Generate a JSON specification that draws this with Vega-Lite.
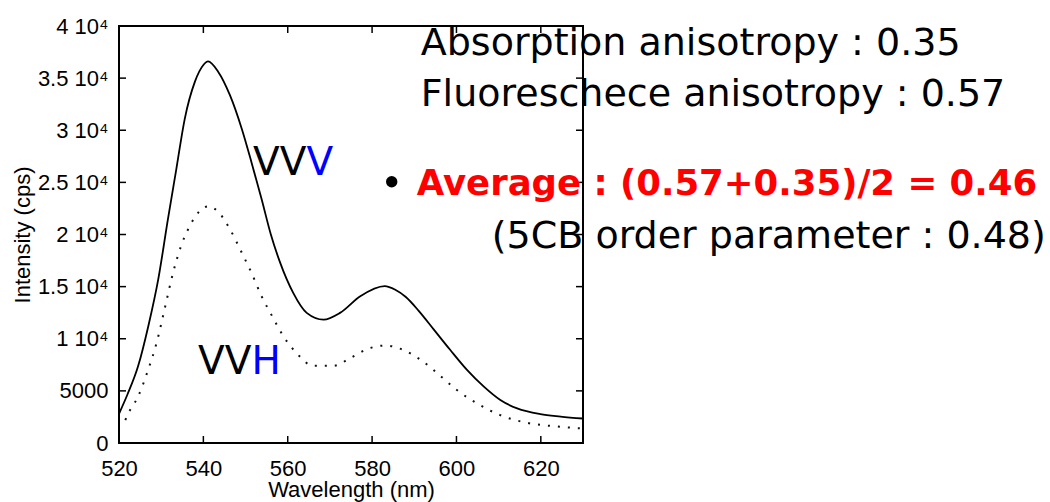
{
  "$schema": "https://vega.github.io/schema/vega-lite/v6.json",
  "autosize": {"type": "none"},
  "padding": {"left": 119, "top": 26, "right": 467, "bottom": 59},
  "width": 464,
  "height": 417,
  "background": "white",
  "config": {
    "view": {"stroke": "black", "strokeWidth": 2},
    "axis": {
      "domain": false,
      "grid": false,
      "ticks": false,
      "labelFlush": false,
      "labelFont": "Liberation Sans",
      "labelFontSize": 22,
      "labelColor": "black",
      "titleFont": "Liberation Sans",
      "titleFontSize": 22,
      "titleFontWeight": "normal",
      "titleColor": "black"
    }
  },
  "datasets": {
    "xticks": [{"wavelength": 540}, {"wavelength": 560}, {"wavelength": 580}, {"wavelength": 600}, {"wavelength": 620}],
    "yticks": [{"intensity": 5000}, {"intensity": 10000}, {"intensity": 15000}, {"intensity": 20000}, {"intensity": 25000}, {"intensity": 30000}, {"intensity": 35000}],
    "curves": [
      {"series": "VVV", "wavelength": 520, "intensity": 2800},
      {"series": "VVV", "wavelength": 522, "intensity": 4650},
      {"series": "VVV", "wavelength": 524.5, "intensity": 7330},
      {"series": "VVV", "wavelength": 527, "intensity": 11300},
      {"series": "VVV", "wavelength": 529.3, "intensity": 15690},
      {"series": "VVV", "wavelength": 531.6, "intensity": 21475},
      {"series": "VVV", "wavelength": 533.6, "intensity": 26300},
      {"series": "VVV", "wavelength": 535.6, "intensity": 31120},
      {"series": "VVV", "wavelength": 538, "intensity": 34660},
      {"series": "VVV", "wavelength": 540, "intensity": 36260},
      {"series": "VVV", "wavelength": 541.1, "intensity": 36600},
      {"series": "VVV", "wavelength": 543.5, "intensity": 35620},
      {"series": "VVV", "wavelength": 546.3, "intensity": 33365},
      {"series": "VVV", "wavelength": 549.1, "intensity": 30150},
      {"series": "VVV", "wavelength": 551.4, "intensity": 26940},
      {"series": "VVV", "wavelength": 553.8, "intensity": 23400},
      {"series": "VVV", "wavelength": 556, "intensity": 20000},
      {"series": "VVV", "wavelength": 558.2, "intensity": 17300},
      {"series": "VVV", "wavelength": 561.3, "intensity": 14400},
      {"series": "VVV", "wavelength": 564.5, "intensity": 12480},
      {"series": "VVV", "wavelength": 568.5, "intensity": 11830},
      {"series": "VVV", "wavelength": 572.4, "intensity": 12480},
      {"series": "VVV", "wavelength": 577.2, "intensity": 14080},
      {"series": "VVV", "wavelength": 583, "intensity": 15050},
      {"series": "VVV", "wavelength": 585.5, "intensity": 14700},
      {"series": "VVV", "wavelength": 588, "intensity": 14000},
      {"series": "VVV", "wavelength": 591, "intensity": 12700},
      {"series": "VVV", "wavelength": 594.6, "intensity": 10900},
      {"series": "VVV", "wavelength": 598.5, "intensity": 8940},
      {"series": "VVV", "wavelength": 602.5, "intensity": 7010},
      {"series": "VVV", "wavelength": 606.5, "intensity": 5400},
      {"series": "VVV", "wavelength": 610.4, "intensity": 4120},
      {"series": "VVV", "wavelength": 614.4, "intensity": 3315},
      {"series": "VVV", "wavelength": 619.9, "intensity": 2770},
      {"series": "VVV", "wavelength": 624.7, "intensity": 2540},
      {"series": "VVV", "wavelength": 630, "intensity": 2350},
      {"series": "VVH", "wavelength": 521.5, "intensity": 2200},
      {"series": "VVH", "wavelength": 522.1, "intensity": 2750},
      {"series": "VVH", "wavelength": 524.5, "intensity": 4440},
      {"series": "VVH", "wavelength": 526.9, "intensity": 7010},
      {"series": "VVH", "wavelength": 528.9, "intensity": 9585},
      {"series": "VVH", "wavelength": 530.9, "intensity": 13000},
      {"series": "VVH", "wavelength": 532.8, "intensity": 16300},
      {"series": "VVH", "wavelength": 534.8, "intensity": 19000},
      {"series": "VVH", "wavelength": 536.8, "intensity": 20830},
      {"series": "VVH", "wavelength": 539.2, "intensity": 22275},
      {"series": "VVH", "wavelength": 541.1, "intensity": 22700},
      {"series": "VVH", "wavelength": 543.5, "intensity": 22180},
      {"series": "VVH", "wavelength": 546.3, "intensity": 20510},
      {"series": "VVH", "wavelength": 549.1, "intensity": 18260},
      {"series": "VVH", "wavelength": 551.4, "intensity": 16335},
      {"series": "VVH", "wavelength": 553.8, "intensity": 14080},
      {"series": "VVH", "wavelength": 556.4, "intensity": 12100},
      {"series": "VVH", "wavelength": 559, "intensity": 10220},
      {"series": "VVH", "wavelength": 562.1, "intensity": 8620},
      {"series": "VVH", "wavelength": 566.1, "intensity": 7400},
      {"series": "VVH", "wavelength": 570.8, "intensity": 7400},
      {"series": "VVH", "wavelength": 574.8, "intensity": 8140},
      {"series": "VVH", "wavelength": 578.8, "intensity": 9000},
      {"series": "VVH", "wavelength": 583.1, "intensity": 9350},
      {"series": "VVH", "wavelength": 587.3, "intensity": 8940},
      {"series": "VVH", "wavelength": 591.6, "intensity": 7950},
      {"series": "VVH", "wavelength": 596.4, "intensity": 6365},
      {"series": "VVH", "wavelength": 600.1, "intensity": 5080},
      {"series": "VVH", "wavelength": 604.9, "intensity": 3800},
      {"series": "VVH", "wavelength": 610.4, "intensity": 2670},
      {"series": "VVH", "wavelength": 616.8, "intensity": 1930},
      {"series": "VVH", "wavelength": 623.1, "intensity": 1610},
      {"series": "VVH", "wavelength": 630, "intensity": 1390}
    ]
  },
  "layer": [
    {
      "data": {"name": "curves"},
      "transform": [{"filter": "datum.series === 'VVV'"}],
      "mark": {"type": "line", "color": "black", "strokeWidth": 1.8, "interpolate": "monotone"},
      "encoding": {
        "x": {
          "field": "wavelength", "type": "quantitative",
          "scale": {"domain": [520, 630], "nice": false, "zero": false},
          "axis": {"orient": "bottom", "values": [520, 540, 560, 580, 600, 620], "labelPadding": 15, "title": "Wavelength (nm)", "titlePadding": 0}
        },
        "y": {
          "field": "intensity", "type": "quantitative",
          "scale": {"domain": [0, 40000], "nice": false, "zero": false},
          "axis": {
            "orient": "left",
            "values": [0, 5000, 10000, 15000, 20000, 25000, 30000, 35000, 40000],
            "labelExpr": "datum.value == 0 ? '0' : (datum.value == 5000 ? '5000' : (datum.value / 10000) + ' 10⁴')",
            "labelPadding": 11,
            "title": "Intensity (cps)",
            "titlePadding": 3
          }
        }
      }
    },
    {
      "data": {"name": "curves"},
      "transform": [{"filter": "datum.series === 'VVH'"}],
      "mark": {"type": "line", "color": "#111", "strokeWidth": 2, "strokeDash": [2, 8], "interpolate": "monotone"},
      "encoding": {
        "x": {"field": "wavelength", "type": "quantitative", "scale": {"domain": [520, 630], "nice": false, "zero": false}},
        "y": {"field": "intensity", "type": "quantitative", "scale": {"domain": [0, 40000], "nice": false, "zero": false}}
      }
    },
    {
      "data": {"name": "xticks"},
      "mark": {"type": "tick", "orient": "vertical", "size": 14, "thickness": 1.5, "color": "black", "opacity": 1, "clip": true},
      "encoding": {
        "x": {"field": "wavelength", "type": "quantitative", "scale": {"domain": [520, 630], "nice": false, "zero": false}},
        "y": {"datum": 0, "type": "quantitative", "scale": {"domain": [0, 40000], "nice": false, "zero": false}}
      }
    },
    {
      "data": {"name": "xticks"},
      "mark": {"type": "tick", "orient": "vertical", "size": 14, "thickness": 1.5, "color": "black", "opacity": 1, "clip": true},
      "encoding": {
        "x": {"field": "wavelength", "type": "quantitative", "scale": {"domain": [520, 630], "nice": false, "zero": false}},
        "y": {"datum": 40000, "type": "quantitative", "scale": {"domain": [0, 40000], "nice": false, "zero": false}}
      }
    },
    {
      "data": {"name": "yticks"},
      "mark": {"type": "tick", "orient": "horizontal", "size": 14, "thickness": 1.5, "color": "black", "opacity": 1, "clip": true},
      "encoding": {
        "y": {"field": "intensity", "type": "quantitative", "scale": {"domain": [0, 40000], "nice": false, "zero": false}},
        "x": {"datum": 520, "type": "quantitative", "scale": {"domain": [520, 630], "nice": false, "zero": false}}
      }
    },
    {
      "data": {"name": "yticks"},
      "mark": {"type": "tick", "orient": "horizontal", "size": 14, "thickness": 1.5, "color": "black", "opacity": 1, "clip": true},
      "encoding": {
        "y": {"field": "intensity", "type": "quantitative", "scale": {"domain": [0, 40000], "nice": false, "zero": false}},
        "x": {"datum": 630, "type": "quantitative", "scale": {"domain": [520, 630], "nice": false, "zero": false}}
      }
    },
    {
      "data": {"values": [
        {"wavelength": 591.53, "intensity": 37219, "text": "Absorption anisotropy : 0.35"},
        {"wavelength": 591.53, "intensity": 32323, "text": "Fluoreschece anisotropy : 0.57"},
        {"wavelength": 608.36, "intensity": 18691, "text": "(5CB order parameter : 0.48)"}
      ]},
      "mark": {"type": "text", "align": "left", "baseline": "alphabetic", "font": "DejaVu Sans", "fontSize": 38, "color": "black"},
      "encoding": {
        "x": {"field": "wavelength", "type": "quantitative", "scale": {"domain": [520, 630], "nice": false, "zero": false}},
        "y": {"field": "intensity", "type": "quantitative", "scale": {"domain": [0, 40000], "nice": false, "zero": false}},
        "text": {"field": "text"}
      }
    },
    {
      "data": {"values": [
        {"wavelength": 590.58, "intensity": 23779, "text": "Average : (0.57+0.35)/2 = 0.46"}
      ]},
      "mark": {"type": "text", "align": "left", "baseline": "alphabetic", "font": "DejaVu Sans", "fontSize": 35.5, "fontWeight": "bold", "color": "#ff0000"},
      "encoding": {
        "x": {"field": "wavelength", "type": "quantitative", "scale": {"domain": [520, 630], "nice": false, "zero": false}},
        "y": {"field": "intensity", "type": "quantitative", "scale": {"domain": [0, 40000], "nice": false, "zero": false}},
        "text": {"field": "text"}
      }
    },
    {
      "data": {"values": [{"wavelength": 584.65, "intensity": 25056}]},
      "mark": {"type": "point", "shape": "circle", "filled": true, "size": 130, "color": "black", "opacity": 1},
      "encoding": {
        "x": {"field": "wavelength", "type": "quantitative", "scale": {"domain": [520, 630], "nice": false, "zero": false}},
        "y": {"field": "intensity", "type": "quantitative", "scale": {"domain": [0, 40000], "nice": false, "zero": false}}
      }
    },
    {
      "data": {"values": [
        {"wavelength": 564.43, "intensity": 25699, "text": "VV"},
        {"wavelength": 551.39, "intensity": 6662, "text": "VV"}
      ]},
      "mark": {"type": "text", "align": "right", "baseline": "alphabetic", "font": "DejaVu Sans", "fontSize": 39, "color": "black"},
      "encoding": {
        "x": {"field": "wavelength", "type": "quantitative", "scale": {"domain": [520, 630], "nice": false, "zero": false}},
        "y": {"field": "intensity", "type": "quantitative", "scale": {"domain": [0, 40000], "nice": false, "zero": false}},
        "text": {"field": "text"}
      }
    },
    {
      "data": {"values": [
        {"wavelength": 564.43, "intensity": 25699, "text": "V"},
        {"wavelength": 551.39, "intensity": 6662, "text": "H"}
      ]},
      "mark": {"type": "text", "align": "left", "baseline": "alphabetic", "font": "DejaVu Sans", "fontSize": 39, "color": "#0000ff"},
      "encoding": {
        "x": {"field": "wavelength", "type": "quantitative", "scale": {"domain": [520, 630], "nice": false, "zero": false}},
        "y": {"field": "intensity", "type": "quantitative", "scale": {"domain": [0, 40000], "nice": false, "zero": false}},
        "text": {"field": "text"}
      }
    }
  ]
}
